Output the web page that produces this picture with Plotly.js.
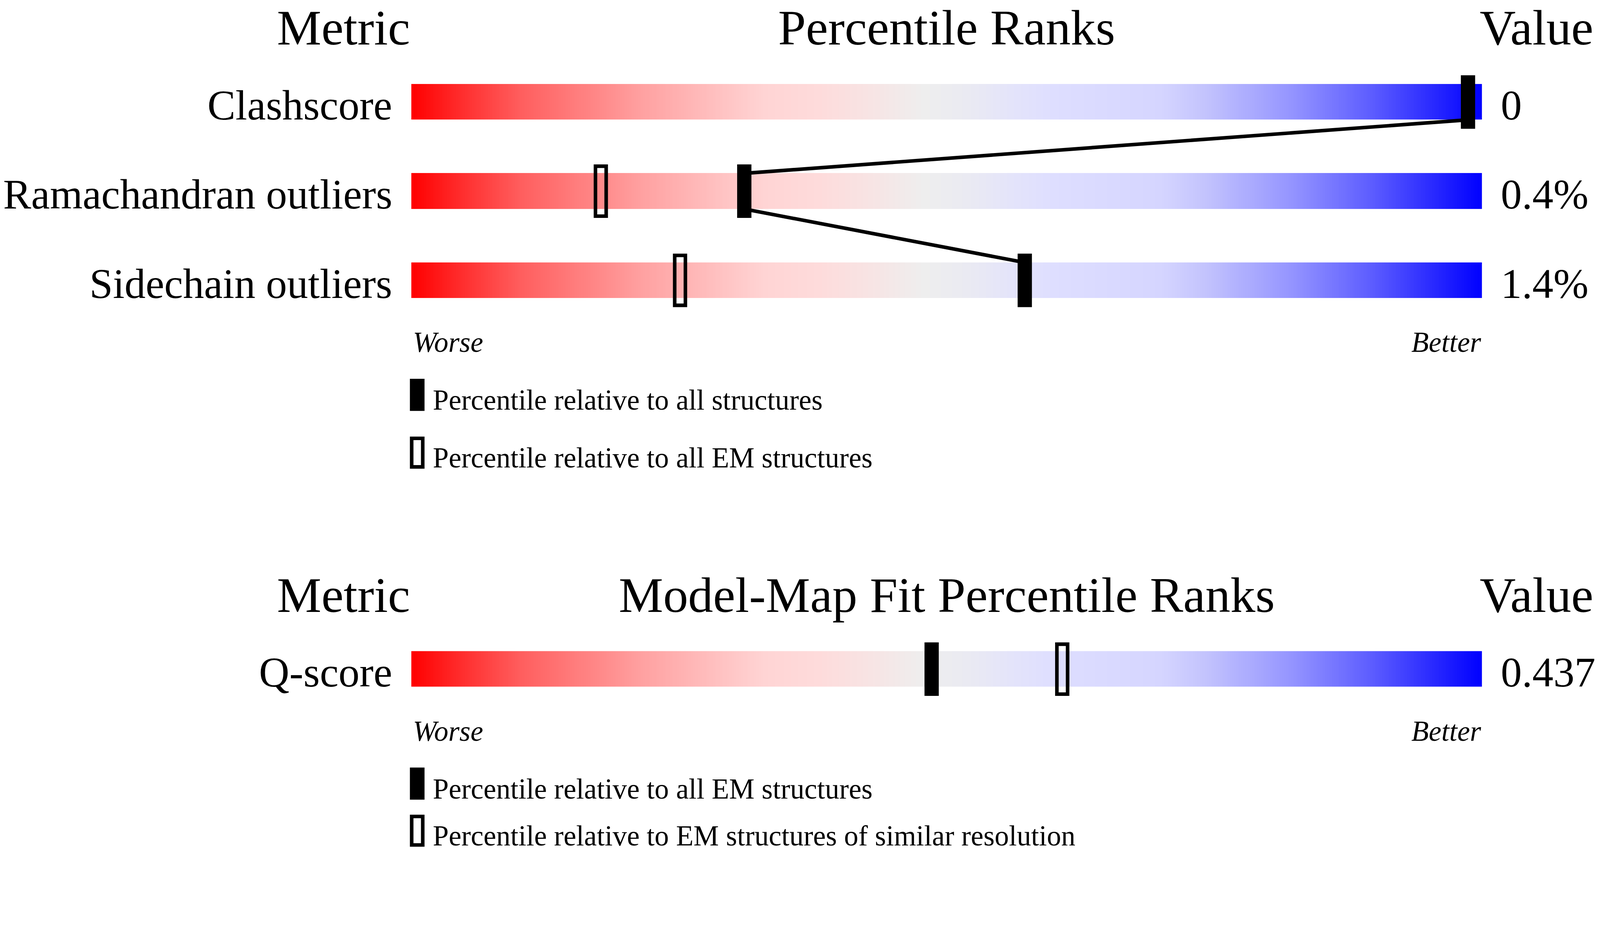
<!DOCTYPE html>
<html>
<head>
<meta charset="utf-8">
<script src="https://cdn.plot.ly/plotly-3.0.1.min.js"></script>
<style>
  html, body { margin: 0; padding: 0; background: #ffffff; overflow: hidden; }
</style>
</head>
<body>
<div id="chart"></div>
<script>
CHART = document.getElementById('chart');

// ---- data ----
const geomMetrics = ['Clashscore', 'Ramachandran outliers', 'Sidechain outliers'];
const geomValues = ['0', '0.4%', '1.4%'];
const geomPctAll = [98.7, 31.1, 57.3];      // relative to all structures
const geomPctEM = [null, 17.7, 25.1];       // relative to all EM structures

const fitMetrics = ['Q-score'];
const fitValues = ['0.437'];
const fitPctEM = [48.6];                    // relative to all EM structures
const fitPctRes = [60.8];                   // relative to EM structures of similar resolution

const geomTitles = ['Metric', 'Percentile Ranks', 'Value'];
const fitTitles = ['Metric', 'Model-Map Fit Percentile Ranks', 'Value'];
const geomLegend = ['Percentile relative to all structures', 'Percentile relative to all EM structures'];
const fitLegend = ['Percentile relative to all EM structures', 'Percentile relative to EM structures of similar resolution'];

// ---- geometry, in reference pixels (4485 x 2402), scaled to the window ----
const W = 4485, H = 2402;
const S = Math.min((window.innerWidth || W) / W, (window.innerHeight || H) / H);
const px = (v) => v * S;

const FONT = 'Liberation Serif, Times New Roman, serif';
const BAR_LEFT = 1153, BAR_RIGHT = 4154;
const PX_PER_PCT = (BAR_RIGHT - BAR_LEFT) / 100;
const ROW_PX = 250;
const BAR_HALF = 50 / ROW_PX;               // gradient bar half height, in rows
const GEOM_ROW0 = 286, FIT_ROW0 = 1876;     // row centres

// red -> light grey -> blue slider gradient
const gradient = [
    [0.00, 'rgb(255,0,0)'],
    [0.05, 'rgb(255,48,48)'],
    [0.10, 'rgb(255,92,92)'],
    [0.16, 'rgb(255,128,128)'],
    [0.22, 'rgb(255,163,163)'],
    [0.28, 'rgb(255,190,190)'],
    [0.33, 'rgb(255,212,212)'],
    [0.38, 'rgb(254,219,219)'],
    [0.43, 'rgb(247,228,228)'],
    [0.48, 'rgb(238,238,238)'],
    [0.52, 'rgb(234,234,242)'],
    [0.56, 'rgb(228,228,250)'],
    [0.60, 'rgb(222,222,255)'],
    [0.70, 'rgb(213,213,255)'],
    [0.74, 'rgb(196,196,253)'],
    [0.82, 'rgb(150,150,255)'],
    [0.90, 'rgb(90,90,255)'],
    [0.95, 'rgb(45,45,255)'],
    [1.00, 'rgb(0,0,255)']
];

const COLS = 600;
const edges = Array.from({length: COLS + 1}, (_, i) => i * 100 / COLS);
const mids = Array.from({length: COLS}, (_, i) => (i + 0.5) * 100 / COLS);

/**
 * Gradient strips, one per metric row.
 */
function strips(n, xa, ya) {
    return {
        type: 'heatmap',
        x: edges,
        y: Array.from({length: n}, (_, i) => i),
        z: Array.from({length: n}, () => mids),
        zmin: 0, zmax: 100,
        colorscale: gradient,
        showscale: false,
        ygap: px(ROW_PX - 100),
        hoverinfo: 'skip',
        xaxis: xa, yaxis: ya
    };
}

/**
 * Percentile markers drawn as thin horizontal bars.
 */
function markers(pcts, open, xa, ya) {
    const rows = [], pos = [];
    pcts.forEach((p, i) => { if (p !== null) { rows.push(i); pos.push(p); } });
    const wPct = (open ? 30 : 40) / PX_PER_PCT;
    return {
        type: 'bar',
        orientation: 'h',
        y: rows,
        x: pos.map(() => wPct),
        base: pos.map(p => p - wPct / 2),
        width: (open ? 140 : 150) / ROW_PX,
        marker: open
            ? {color: 'rgba(0,0,0,0)', line: {color: '#000000', width: px(10)}}
            : {color: '#000000', line: {width: 0}},
        hoverinfo: 'skip',
        xaxis: xa, yaxis: ya
    };
}

/**
 * Zigzag joining the "all structures" markers of consecutive rows.
 */
function connector(pcts, xa, ya) {
    const x = [], y = [];
    for (let i = 0; i < pcts.length - 1; i++) {
        x.push(pcts[i], pcts[i + 1], null);
        y.push(i + BAR_HALF, i + 1 - BAR_HALF, null);
    }
    return {
        type: 'scatter', mode: 'lines', x: x, y: y,
        line: {color: '#000000', width: px(10)},
        hoverinfo: 'skip',
        xaxis: xa, yaxis: ya
    };
}

function note(text, x, y, xanchor, xshift, yshift, size, xr, yr, italic) {
    return {
        text: text, x: x, y: y, xref: xr, yref: yr,
        xanchor: xanchor, yanchor: 'middle',
        xshift: px(xshift), yshift: px(yshift),
        showarrow: false,
        font: {family: FONT, size: px(size), color: '#000000', style: italic ? 'italic' : 'normal'}
    };
}

function sectionNotes(titles, metrics, values, legend, xr, yr, bottomLift) {
    const last = metrics.length - 1;
    const out = [
        note(titles[0], 0, 0, 'right', -1, 208, 140, xr, yr),
        note(titles[1], 50, 0, 'center', 0, 208, 140, xr, yr),
        note(titles[2], 100, 0, 'left', -8, 208, 140, xr, yr),
        note('Worse', 0, last, 'left', 2, -174, 80, xr, yr, true),
        note('Better', 100, last, 'right', 0, -174, 80, xr, yr, true),
        note(legend[0], 0, last, 'left', 58, -336, 80, xr, yr),
        note(legend[1], 0, last, 'left', 58, -498 + bottomLift, 80, xr, yr)
    ];
    metrics.forEach((m, i) => out.push(note(m, 0, i, 'right', -51, -9, 118, xr, yr)));
    values.forEach((v, i) => out.push(note(v, 100, i, 'left', 51, -9, 118, xr, yr)));
    return out;
}

/**
 * Filled and open legend keys below the last row (paper refs, so not clipped).
 */
function legendKeys(lastRowPx, bottomLift) {
    const base = {type: 'rect', xref: 'paper', yref: 'paper', xsizemode: 'pixel', ysizemode: 'pixel',
        xanchor: BAR_LEFT / W, yanchor: 1 - lastRowPx / H};
    return [
        Object.assign({}, base, {x0: px(-4), x1: px(37), y0: px(-276), y1: px(-366),
            fillcolor: '#000000', line: {width: 0}}),
        Object.assign({}, base, {x0: px(1), x1: px(32), y0: px(-443 + bottomLift), y1: px(-523 + bottomLift),
            fillcolor: 'rgba(0,0,0,0)', line: {color: '#000000', width: px(10)}})
    ];
}

function plot() {
    const xDomain = [BAR_LEFT / W, BAR_RIGHT / W];
    const geomTop = GEOM_ROW0 - ROW_PX / 2;
    const geomDomain = [1 - (geomTop + ROW_PX * geomMetrics.length) / H, 1 - geomTop / H];
    const fitTop = FIT_ROW0 - ROW_PX / 2;
    const fitDomain = [1 - (fitTop + ROW_PX * fitMetrics.length) / H, 1 - fitTop / H];
    const geomLast = GEOM_ROW0 + ROW_PX * (geomMetrics.length - 1);
    const fitLast = FIT_ROW0 + ROW_PX * (fitMetrics.length - 1);

    const traces = [
        strips(geomMetrics.length, 'x', 'y'),
        markers(geomPctEM, true, 'x', 'y'),
        markers(geomPctAll, false, 'x', 'y'),
        connector(geomPctAll, 'x', 'y'),
        strips(fitMetrics.length, 'x2', 'y2'),
        markers(fitPctRes, true, 'x2', 'y2'),
        markers(fitPctEM, false, 'x2', 'y2')
    ];

    const axisX = {range: [0, 100], visible: false, fixedrange: true, domain: xDomain};
    const layout = {
        width: px(W), height: px(H),
        margin: {l: 0, r: 0, t: 0, b: 0, pad: 0},
        paper_bgcolor: '#ffffff',
        plot_bgcolor: 'rgba(0,0,0,0)',
        showlegend: false,
        barmode: 'overlay',
        xaxis: Object.assign({anchor: 'y'}, axisX),
        yaxis: {range: [geomMetrics.length - 0.5, -0.5], visible: false, domain: geomDomain, anchor: 'x'},
        xaxis2: Object.assign({anchor: 'y2'}, axisX),
        yaxis2: {range: [fitMetrics.length - 0.5, -0.5], visible: false, domain: fitDomain, anchor: 'x2'},
        annotations: sectionNotes(geomTitles, geomMetrics, geomValues, geomLegend, 'x', 'y', 0)
            .concat(sectionNotes(fitTitles, fitMetrics, fitValues, fitLegend, 'x2', 'y2', 30)),
        shapes: legendKeys(geomLast, 0).concat(legendKeys(fitLast, 30))
    };

    Plotly.newPlot(CHART, traces, layout, {staticPlot: true, displayModeBar: false});
}

plot();
</script>
</body>
</html>
